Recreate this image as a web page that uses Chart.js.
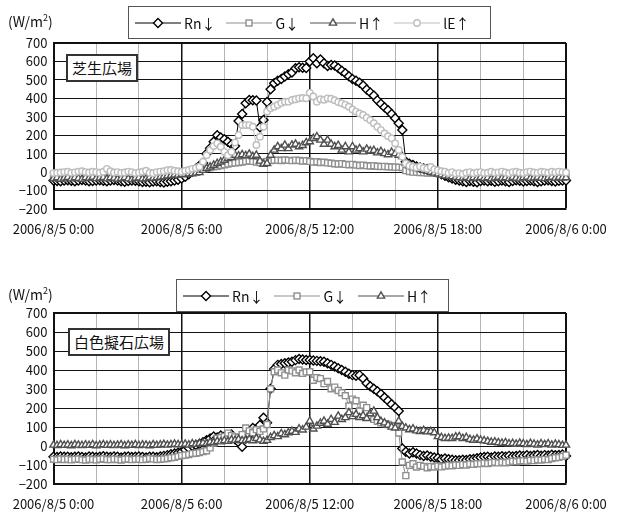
<!DOCTYPE html>
<html lang="ja">
<head>
<meta charset="UTF-8">
<title>芝生広場・白色擬石広場 熱収支</title>
<script src="https://cdn.jsdelivr.net/npm/chart.js@4.4.1/dist/chart.umd.min.js"></script>
<style>
  body { margin: 0; background: #fff; }
  #page { position: relative; width: 617px; height: 515px; overflow: hidden;
          font-family: "Noto Sans CJK JP", "Noto Sans", sans-serif; color: #111; }
  canvas { position: absolute; left: 0; }
  .unit { position: absolute; left: 8px; font-size: 14px; line-height: 18px; }
  .unit sup { font-size: 9px; vertical-align: 6px; line-height: 0; }
  .legend { position: absolute; box-sizing: border-box; height: 33px; border: 1px solid #555;
            background: #fff; display: flex; align-items: center; padding-left: 6px; font-size: 14px; }
  .item { display: flex; align-items: center; margin-right: 11px; white-space: nowrap; }
  .item svg { margin-right: 3px; }
  .place { position: absolute; box-sizing: border-box; height: 28px; border: 2px solid #333;
           background: #fff; font-size: 15px; line-height: 24px; text-align: center; }
</style>
</head>
<body>
<div id="page">
  <canvas id="chartA" width="617" height="250" style="top:0"></canvas>
  <canvas id="chartB" width="617" height="245" style="top:270px"></canvas>

  <div class="unit" style="top:12px">(W/m<sup>2</sup>)</div>
  <div class="unit" style="top:285px">(W/m<sup>2</sup>)</div>

  <div class="legend" id="legendA" style="left:128px; top:6px; width:363px"></div>
  <div class="legend" id="legendB" style="left:176px; top:279px; width:273px"></div>

  <div class="place" style="left:66px; top:54px; width:72px">芝生広場</div>
  <div class="place" style="left:68px; top:328px; width:102px">白色擬石広場</div>
</div>

<script>
// time axis: 10-minute readings, 2006/8/5 0:00 .. 2006/8/6 0:00 (hours)
const hours = Array.from({ length: 145 }, (_, i) => i / 6);
const xTickLabels = ['2006/8/5 0:00', '2006/8/5 6:00', '2006/8/5 12:00', '2006/8/5 18:00', '2006/8/6 0:00'];

// 芝生広場
const rnA = [
  -45,-48,-50,-46,-44,-47, -49,-45,-43,-46,-50,-48, -46,-44,-47,-49,-45,-43,
  -46,-50,-52,-48,-45,-47, -50,-54,-52,-55,-51,-49, -53,-56,-52,-50,-46,-42,
  -35,-25,-12,2,18,35, 50,100,130,165,200,188, 178,165,150,141,277,315,
  373,391,390,388,243,283, 380,449,482,495,505,518, 530,540,563,569,566,565,
  600,617,590,610,590,575, 581,578,565,550,536,520, 505,495,485,470,448,432,
  415,390,370,352,335,315, 292,265,228,56,45,38, 30,25,20,15,10,3,
  -5,-12,-20,-28,-35,-42, -45,-50,-53,-48,-52,-55, -48,-45,-50,-47,-52,-49,
  -46,-50,-53,-48,-44,-47, -51,-48,-45,-49,-53,-50, -46,-44,-48,-51,-47,-45,
  -45
];
const gA = [
  -12,-15,-10,-14,-13,-11, -15,-12,-10,-14,-16,-12, -13,-11,-15,-12,-10,-14,
  -16,-13,-11,-15,-12,-14, -13,-15,-12,-10,-14,-11, -12,-10,-8,-6,-5,-4,
  -3,0,2,5,8,12, 15,20,24,28,32,36, 40,44,48,50,52,55,
  58,60,58,55,52,54, 58,62,64,65,63,66, 64,62,65,63,60,62,
  58,55,56,52,54,50, 48,45,44,46,42,40, 42,38,36,38,35,33,
  34,32,30,31,29,28, 27,26,25,8,3,0, 0,-2,-3,-5,-4,-6,
  -8,-10,-9,-12,-13,-15, -14,-16,-15,-13,-17,-15, -14,-16,-13,-15,-12,-14,
  -15,-13,-16,-14,-12,-15, -13,-15,-14,-12,-16,-14, -15,-12,-14,-13,-15,-12,
  -13
];
const hA = [
  -35,-30,-38,-32,-28,-36, -30,-34,-38,-30,-33,-27, -35,-31,-29,-36,-30,-33,
  -38,-34,-30,-36,-40,-33, -31,-37,-35,-28,-33,-30, -27,-24,-20,-18,-15,-16,
  -14,-12,-10,-8,-5,-2, 10,20,28,38,47,55, 65,74,80,92,88,95,
  90,98,85,92,60,43, 47,92,120,138,128,147, 128,147,152,138,145,160,
  165,183,192,174,152,174, 152,138,145,120,138,110, 138,120,128,110,125,115,
  118,105,112,101,95,108, 100,92,85,47,35,25, 20,15,10,5,0,-5,
  -10,-15,-20,-22,-25,-28, -30,-33,-28,-35,-30,-32, -28,-34,-30,-36,-31,-27,
  -33,-30,-35,-29,-32,-36, -30,-27,-34,-31,-28,-33, -35,-30,-27,-32,-29,-31,
  -30
];
const leA = [
  -5,-3,-2,0,2,-4, -1,3,5,0,-2,2, 0,-3,2,18,5,-2,
  0,-4,-2,3,0,-5, -2,2,8,-3,-6,0, 3,5,10,12,8,5,
  2,8,12,18,22,29, 56,92,120,141,156,138, 110,92,110,160,201,255,
  255,255,246,147,192,246, 328,346,355,364,375,382, 382,391,395,400,402,400,
  430,410,382,395,392,400, 398,390,380,373,365,355, 340,328,318,310,295,282,
  265,246,228,210,195,183, 156,120,83,47,35,29, 25,30,22,18,28,15,
  10,5,2,-5,0,-8, -5,-10,-3,0,-6,-2, 0,-5,-3,2,-4,-1,
  3,-2,-6,0,2,-3, -5,0,3,-2,-4,2, 0,-3,2,-1,3,0,
  -2
];

// 白色擬石広場
const rnB = [
  -56,-58,-55,-57,-56,-59, -56,-55,-58,-60,-55,-57, -59,-56,-54,-57,-58,-55,
  -57,-60,-56,-55,-58,-56, -55,-58,-61,-57,-56,-59, -55,-52,-48,-44,-40,-35,
  -30,-20,-10,0,5,10, 20,30,40,50,45,55, 50,45,60,35,20,-4,
  40,59,95,75,110,149, 122,301,405,427,432,435, 440,444,452,458,455,453,
  453,450,448,446,444,435, 427,418,409,400,391,380, 373,370,373,355,330,315,
  301,288,274,255,238,220, 203,184,-13,-30,-40,-33, -40,-48,-53,-50,-57,-60,
  -63,-70,-66,-70,-72,-75, -75,-72,-74,-70,-68,-65, -61,-58,-56,-60,-55,-57,
  -54,-56,-52,-55,-53,-50, -52,-49,-53,-50,-47,-51, -48,-50,-46,-49,-47,-45,
  -53
];
const gB = [
  -70,-72,-68,-71,-69,-73, -70,-68,-72,-74,-69,-71, -73,-70,-67,-71,-72,-69,
  -71,-74,-70,-68,-72,-70, -69,-72,-70,-66,-68,-71, -70,-68,-66,-62,-60,-55,
  -50,-48,-45,-40,-38,-35, -30,-25,-10,15,41,45, 50,68,55,48,45,60,
  95,80,70,86,77,90, 113,301,391,400,385,373, 400,395,385,400,382,390,
  391,346,360,355,328,340, 301,310,292,280,265,211, 247,238,184,215,202,160,
  140,130,122,118,113,108, 104,68,-84,-156,-102,-93, -111,-102,-107,-115,-108,-111,
  -105,-110,-106,-102,-104,-100, -102,-98,-100,-95,-97,-93, -93,-90,-92,-88,-86,-89,
  -85,-88,-84,-80,-83,-79, -78,-80,-75,-77,-72,-74, -70,-72,-66,-62,-60,-55,
  -48
];
const hB = [
  5,3,7,4,6,2, 8,5,3,6,4,7, 2,5,8,4,6,3,
  5,7,2,6,4,8, 3,6,5,2,7,4, 6,9,5,8,10,7,
  8,10,6,12,9,14, 15,12,20,18,25,22, 28,25,32,30,35,28,
  30,35,28,40,32,25, 30,45,55,50,65,60, 70,78,72,90,85,100,
  131,90,105,120,131,115, 140,125,158,140,150,176, 155,167,150,160,145,170,
  184,150,130,122,110,100, 95,131,104,95,86,90, 80,77,82,75,77,70,
  50,45,40,42,40,48, 50,40,45,35,31,38, 31,28,25,20,22,18,
  15,18,12,14,10,15, 12,8,14,10,6,12, 8,12,5,10,7,4,
  5
];

const FONT = '"Noto Sans CJK JP", "Noto Sans", sans-serif';

const styles = {
  Rn: { label: 'Rn\u2193', color: '#000000', pointStyle: 'rectRot', radius: 4.5 },
  G:  { label: 'G\u2193',  color: '#8f8f8f', pointStyle: 'rect',    radius: 4.2 },
  H:  { label: 'H\u2191',  color: '#505050', pointStyle: 'triangle', radius: 4.2 },
  lE: { label: 'lE\u2191', color: '#bdbdbd', pointStyle: 'circle',  radius: 3.2 }
};

function series(key, values) {
  const s = styles[key];
  return {
    label: s.label,
    data: values.map((v, i) => ({ x: hours[i], y: v })),
    borderColor: s.color,
    borderWidth: 1,
    pointStyle: s.pointStyle,
    pointRadius: s.radius,
    pointBorderColor: s.color,
    pointBorderWidth: 1.4,
    pointBackgroundColor: '#ffffff',
    tension: 0,
    clip: false
  };
}

function makeChart(id, datasets, axisHeight) {
  return new Chart(document.getElementById(id), {
    type: 'line',
    data: { datasets },
    options: {
      responsive: false,
      animation: false,
      events: [],
      layout: { padding: { top: 43, right: 51, left: 0, bottom: 0 } },
      plugins: { legend: { display: false }, tooltip: { enabled: false } },
      scales: {
        x: {
          type: 'linear', min: 0, max: 24,
          afterFit: s => { s.height = axisHeight; s.paddingLeft = 0; s.paddingRight = 0; },
          ticks: {
            stepSize: 2, autoSkip: false, maxRotation: 0, padding: 12, color: '#111',
            font: { family: FONT, size: 13 },
            callback: v => (v % 6 === 0 ? xTickLabels[v / 6] : '')
          },
          grid: {
            drawTicks: false,
            color: c => (c.tick && c.tick.value % 6 === 0 ? '#111' : '#b5b5b5'),
            lineWidth: c => (c.tick && c.tick.value === 24 ? 2 : (c.tick && c.tick.value % 6 === 0 ? 1.5 : 1))
          },
          border: { color: '#111', width: 2 }
        },
        y: {
          min: -200, max: 700,
          afterFit: s => { s.width = 53.5; s.paddingTop = 0; s.paddingBottom = 0; },
          ticks: {
            stepSize: 100, padding: 6, color: '#111', autoSkip: false,
            font: { family: FONT, size: 13, lineHeight: 1 },
            callback: v => (v < 0 ? '\u2212' + Math.abs(v) : String(v))
          },
          grid: {
            drawTicks: false, color: '#111',
            lineWidth: c => (c.tick && c.tick.value === 700 ? 2 : 1)
          },
          border: { color: '#111', width: 2 }
        }
      }
    }
  });
}

function symbol(key) {
  const s = styles[key];
  const cx = 23, cy = 7, r = s.radius;
  let m;
  if (s.pointStyle === 'rectRot') {
    m = `<polygon points="${cx},${cy - r} ${cx + r},${cy} ${cx},${cy + r} ${cx - r},${cy}"`;
  } else if (s.pointStyle === 'rect') {
    const h = r * Math.SQRT1_2;
    m = `<rect x="${cx - h}" y="${cy - h}" width="${2 * h}" height="${2 * h}"`;
  } else if (s.pointStyle === 'triangle') {
    m = `<polygon points="${cx},${cy - r} ${cx + r * 0.87},${cy + r * 0.5} ${cx - r * 0.87},${cy + r * 0.5}"`;
  } else {
    m = `<circle cx="${cx}" cy="${cy}" r="${r}"`;
  }
  return `<svg width="46" height="14"><line x1="0" y1="${cy}" x2="46" y2="${cy}" stroke="${s.color}" stroke-width="1.2"/>` +
         `${m} fill="#fff" stroke="${s.color}" stroke-width="1.4"/></svg>`;
}

function fillLegend(id, keys) {
  document.getElementById(id).innerHTML = keys
    .map(k => `<div class="item">${symbol(k)}<span>${styles[k].label}</span></div>`)
    .join('');
}

// Excel draws later series on top; Chart.js puts the first dataset on top, so list them reversed
makeChart('chartA', [series('lE', leA), series('H', hA), series('G', gA), series('Rn', rnA)], 41);
makeChart('chartB', [series('H', hB), series('G', gB), series('Rn', rnB)], 31);

fillLegend('legendA', ['Rn', 'G', 'H', 'lE']);
fillLegend('legendB', ['Rn', 'G', 'H']);
</script>
</body>
</html>
